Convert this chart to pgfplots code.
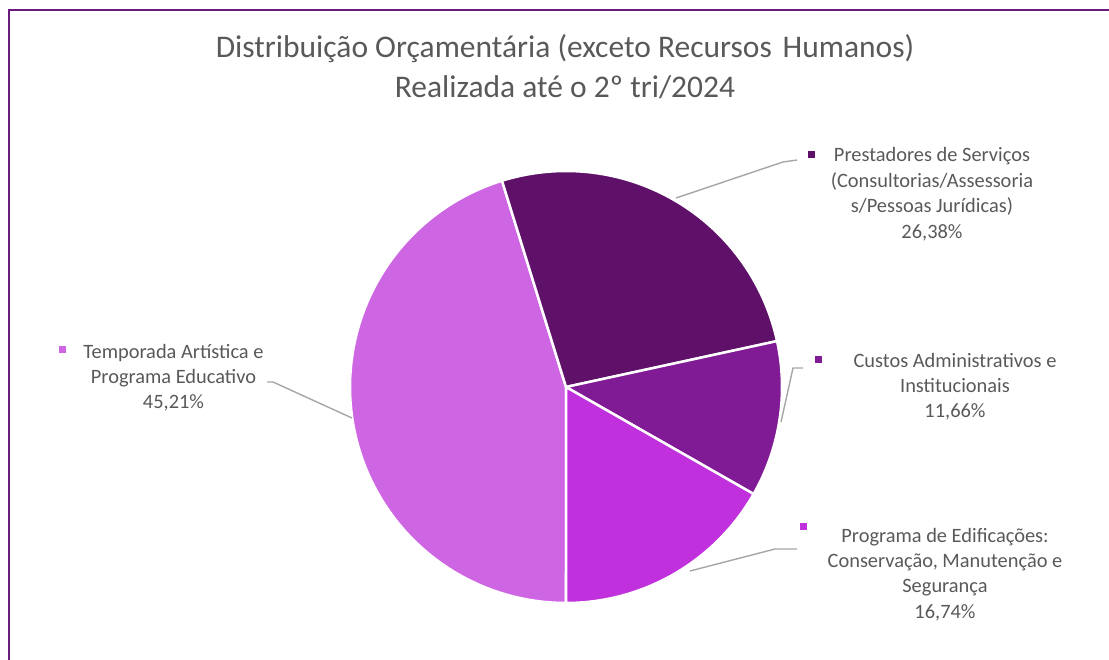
\documentclass[border=0pt]{standalone}
\usepackage{pgfplots}
\pgfplotsset{compat=1.18}
\usepackage{pgfplotstable}
\usepackage{fontspec}
\setmainfont{Carlito}
\definecolor{cPre}{HTML}{5F1169}
\definecolor{cCus}{HTML}{801A95}
\definecolor{cEdi}{HTML}{C030DC}
\definecolor{cTem}{HTML}{CE66E3}
\definecolor{txt}{HTML}{595959}
\definecolor{lead}{HTML}{A6A6A6}
\definecolor{frm}{HTML}{6B1A80}

\pgfplotstableread{
key pct
Prestadores 26.38
Custos 11.66
Edificacoes 16.74
Temporada 45.21
}\piedata

\begin{document}
\begin{tikzpicture}[x=1pt,y=1pt]
\useasboundingbox (0,0) rectangle (1109,659);
\pgfplotstablegetelem{0}{pct}\of\piedata \let\pA\pgfplotsretval
\pgfplotstablegetelem{1}{pct}\of\piedata \let\pB\pgfplotsretval
\pgfplotstablegetelem{2}{pct}\of\piedata \let\pC\pgfplotsretval
\pgfplotstablegetelem{3}{pct}\of\piedata \let\pD\pgfplotsretval
% Temporada starts at the bottom, slices run clockwise
\pgfmathsetmacro{\bT}{270-3.6*\pD}
\pgfmathsetmacro{\bA}{\bT-3.6*\pA}
\pgfmathsetmacro{\bB}{\bA-3.6*\pB}
\pgfmathsetmacro{\bC}{\bB-3.6*\pC}
\draw[frm, line width=2] (9,-5) -- (9,649) -- (1115,649);
\begin{axis}[hide axis, scale only axis, width=432pt, height=432pt,
  xmin=-1, xmax=1, ymin=-1, ymax=1, at={(566pt,272pt)}, anchor=center, clip=false]
\addplot[fill=cTem, draw=white, line width=2.5pt, line join=round, domain=\bT:270, samples=120, variable=\t] ({cos(\t)},{sin(\t)}) -- (axis cs:0,0) -- cycle;
\addplot[fill=cPre, draw=white, line width=2.5pt, line join=round, domain=\bA:\bT, samples=80, variable=\t] ({cos(\t)},{sin(\t)}) -- (axis cs:0,0) -- cycle;
\addplot[fill=cCus, draw=white, line width=2.5pt, line join=round, domain=\bB:\bA, samples=40, variable=\t] ({cos(\t)},{sin(\t)}) -- (axis cs:0,0) -- cycle;
\addplot[fill=cEdi, draw=white, line width=2.5pt, line join=round, domain=\bC:\bB, samples=60, variable=\t] ({cos(\t)},{sin(\t)}) -- (axis cs:0,0) -- cycle;
\end{axis}
% leader lines
\draw[lead, line width=1.4] (676,461) -- (783,497) -- (797,499);
\draw[lead, line width=1.4] (781,237) -- (793,291) -- (803,291);
\draw[lead, line width=1.4] (690,88) -- (775,110) -- (797,110);
\draw[lead, line width=1.4] (352,241) -- (273,277) -- (267,277);
% title
\begin{scope}[every node/.style={anchor=base, text=txt, inner sep=0pt, font=\fontsize{31.5}{38}\selectfont}]
\node at (565,601) {Distribuição Orçamentária (exceto Recursos\hspace{0.12em} Humanos)};
\node at (565,561) {Realizada até o 2º tri/2024};
\end{scope}
% labels
\begin{scope}[every node/.style={anchor=base, text=txt, inner sep=0pt, font=\fontsize{20.4}{24}\selectfont}]
\fill[cPre] (808,501) rectangle (815,508);
\node at (932,497) {Prestadores de Serviços};
\node at (932,471.5) {(Consultorias/Assessoria};
\node at (932,446) {s/Pessoas Jurídicas)};
\node at (932,420.5) {26,38\%};
\fill[cCus] (815,295.5) rectangle (822,302.5);
\node at (955,291.5) {Custos Administrativos e};
\node at (955,266.5) {Institucionais};
\node at (955,241.5) {11,66\%};
\fill[cEdi] (799.5,128.5) rectangle (806.5,135.5);
\node at (945,116) {Programa de Edificações:};
\node at (945,91) {Conservação, Manutenção e};
\node at (945,66) {Segurança};
\node at (945,41) {16,74\%};
\fill[cTem] (59,305.5) rectangle (66,312.5);
\node at (173.5,300.5) {Temporada Artística e};
\node at (173.5,275.5) {Programa Educativo};
\node at (173.5,250.5) {45,21\%};
\end{scope}
\end{tikzpicture}
\end{document}
